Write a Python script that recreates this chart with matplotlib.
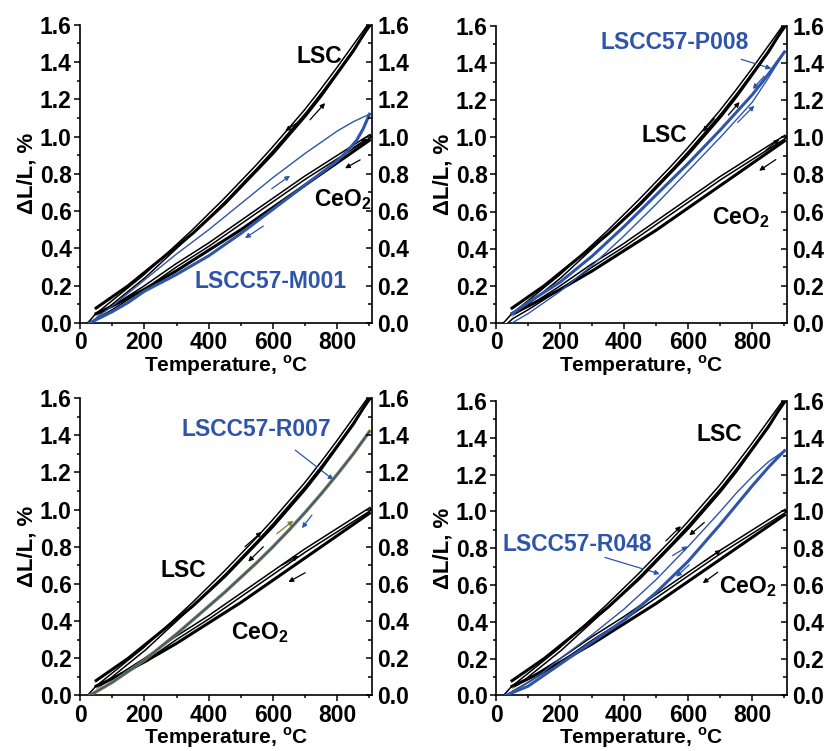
import matplotlib
matplotlib.use("Agg")
import matplotlib.pyplot as plt
from matplotlib.ticker import MultipleLocator

plt.rcParams['font.family'] = ['Liberation Sans', 'DejaVu Sans']
plt.rcParams['font.weight'] = 'bold'

# reference materials (same in every panel)
temp_lsc_heat = [30, 50, 100, 150, 200, 250, 300, 350, 400, 450, 500, 550, 600,
                 650, 700, 750, 800, 850, 900]
lsc_heat = [0.0, 0.04, 0.11, 0.18, 0.25, 0.33, 0.41, 0.49, 0.575, 0.66, 0.75, 0.84,
            0.935, 1.035, 1.135, 1.245, 1.36, 1.48, 1.60]
temp_lsc_cool = [50, 100, 150, 200, 250, 300, 350, 400, 450, 500, 550, 600, 650,
                 700, 750, 800, 850, 900]
lsc_cool = [0.08, 0.14, 0.20, 0.27, 0.34, 0.41, 0.48, 0.56, 0.64, 0.73, 0.82, 0.91,
            1.01, 1.11, 1.22, 1.34, 1.46, 1.60]

temp_ceo_heat = [30, 50, 100, 200, 300, 400, 500, 600, 700, 800, 900]
ceo_heat = [0.0, 0.03, 0.08, 0.19, 0.31, 0.42, 0.54, 0.66, 0.78, 0.89, 1.00]
temp_ceo_cool = [50, 100, 200, 300, 400, 500, 600, 700, 800, 900]
ceo_cool = [0.05, 0.09, 0.18, 0.28, 0.39, 0.50, 0.62, 0.74, 0.86, 0.98]

# LSCC57 samples
temp_m001_heat = [30, 100, 200, 300, 400, 500, 600, 700, 750, 800, 850, 900]
m001_heat = [0.0, 0.09, 0.23, 0.37, 0.50, 0.64, 0.78, 0.91, 0.97, 1.03, 1.08, 1.12]
temp_m001_cool = [30, 100, 150, 200, 300, 400, 500, 600, 700, 750, 800, 830, 860,
                  880, 900]
m001_cool = [0.0, 0.06, 0.11, 0.17, 0.26, 0.36, 0.48, 0.61, 0.74, 0.805, 0.87, 0.92,
             0.98, 1.04, 1.12]

temp_p008 = [50, 100, 150, 200, 250, 300, 350, 400, 450, 500, 550, 600, 650, 700,
             750, 800, 850, 900]
p008_heat = [0.0, 0.05, 0.11, 0.17, 0.24, 0.31, 0.39, 0.47, 0.555, 0.64, 0.73, 0.82,
             0.91, 1.00, 1.095, 1.19, 1.32, 1.46]
p008_cool = [0.05, 0.11, 0.165, 0.22, 0.29, 0.36, 0.44, 0.52, 0.605, 0.69, 0.775,
             0.86, 0.95, 1.04, 1.135, 1.23, 1.34, 1.46]

temp_r007 = [30, 100, 150, 200, 250, 300, 350, 400, 450, 500, 550, 600, 650, 700,
             750, 800, 850, 900]
r007_heat = [0.0, 0.07, 0.13, 0.19, 0.26, 0.33, 0.405, 0.48, 0.555, 0.635, 0.715,
             0.80, 0.89, 0.985, 1.085, 1.19, 1.30, 1.42]
r007_cool = [0.0, 0.07, 0.13, 0.19, 0.26, 0.33, 0.405, 0.48, 0.555, 0.635, 0.715,
             0.80, 0.89, 0.985, 1.085, 1.19, 1.30, 1.42]

temp_r048 = [30, 100, 150, 200, 250, 300, 350, 400, 450, 500, 550, 600, 650, 700,
             750, 800, 850, 900]
r048_heat = [0.0, 0.07, 0.13, 0.20, 0.265, 0.33, 0.40, 0.47, 0.55, 0.63, 0.72, 0.81,
             0.905, 1.00, 1.10, 1.19, 1.27, 1.33]
r048_cool = [0.0, 0.05, 0.11, 0.17, 0.23, 0.29, 0.35, 0.41, 0.485, 0.56, 0.645, 0.73,
             0.83, 0.93, 1.035, 1.14, 1.24, 1.33]

BLUE = '#2f55a8'
OLIVE = '#7d7d30'


def hollow(ax, x, y):
    ax.plot(x, y, color='black', lw=3.2, solid_joinstyle='round', zorder=3)
    ax.plot(x, y, color='white', lw=1.0, solid_joinstyle='round', zorder=3.1)


def solid(ax, x, y, color='black', lw=2.2, z=3.2):
    ax.plot(x, y, color=color, lw=lw, solid_joinstyle='round', zorder=z)


def small_arrow(ax, tail, head, color):
    ax.annotate('', xy=head, xytext=tail,
                arrowprops=dict(arrowstyle='-|>', color=color, lw=0.9,
                                mutation_scale=7, shrinkA=0, shrinkB=0),
                zorder=5)


def pointer(ax, tail, head):
    ax.annotate('', xy=head, xytext=tail,
                arrowprops=dict(arrowstyle='-|>', color=BLUE, lw=0.9,
                                mutation_scale=7, shrinkA=0, shrinkB=0))


def setup(ax):
    ax.set_xlim(0, 908)
    ax.set_ylim(0, 1.6)
    ax.spines['top'].set_visible(False)
    ax.spines['right'].set_visible(False)
    for s in ['left', 'bottom']:
        ax.spines[s].set_linewidth(1.2)
    ax.xaxis.set_major_locator(MultipleLocator(200))
    ax.xaxis.set_minor_locator(MultipleLocator(100))
    ax.yaxis.set_major_locator(MultipleLocator(0.2))
    ax.yaxis.set_minor_locator(MultipleLocator(0.1))
    ax.tick_params(which='both', direction='out', labelsize=16.5, width=1.1)
    ax.tick_params(which='major', length=4, pad=2)
    ax.tick_params(which='minor', length=2.5)
    ax.set_yticklabels([f'{v:.1f}' for v in ax.get_yticks()], fontweight='bold')
    ax.set_xticklabels([f'{int(v)}' for v in ax.get_xticks()], fontweight='bold')
    ax.set_xlabel('Temperature, $^\\mathregular{o}$C', fontsize=15,
                  fontweight='bold', labelpad=-1)
    ax.set_ylabel('\u0394L/L, %', fontsize=16, fontweight='bold', labelpad=2)

    ax2 = ax.twinx()
    ax2.set_ylim(0, 1.6)
    ax2.spines['top'].set_visible(False)
    ax2.spines['left'].set_visible(False)
    ax2.spines['bottom'].set_visible(False)
    ax2.spines['right'].set_linewidth(1.2)
    ax2.yaxis.set_major_locator(MultipleLocator(0.2))
    ax2.yaxis.set_minor_locator(MultipleLocator(0.1))
    ax2.tick_params(which='both', direction='in', labelsize=16.5, width=1.1, pad=4)
    ax2.tick_params(which='major', length=4)
    ax2.tick_params(which='minor', length=3)
    ax2.set_yticklabels([f'{v:.1f}' for v in ax2.get_yticks()], fontweight='bold')


def references(ax, arrows):
    hollow(ax, temp_ceo_heat, ceo_heat)
    solid(ax, temp_ceo_cool, ceo_cool)
    hollow(ax, temp_lsc_heat, lsc_heat)
    solid(ax, temp_lsc_cool, lsc_cool)
    for tail, head, c in arrows:
        small_arrow(ax, tail, head, c)


def label(ax, x, y, s, color='black'):
    ax.text(x, y, s, color=color, fontsize=16.5, fontweight='bold',
            ha='center', va='center', zorder=6)


fig = plt.figure(figsize=(8.26, 7.51), dpi=100)
ax1 = fig.add_axes([0.0969, 0.570, 0.3535, 0.397])
ax2 = fig.add_axes([0.6005, 0.570, 0.3523, 0.3955])
ax3 = fig.add_axes([0.0969, 0.0740, 0.3535, 0.396])
ax4 = fig.add_axes([0.6005, 0.0740, 0.3523, 0.392])

# panel 1: M001
references(ax1, [((680, 1.08), (638, 1.03), 'black'),
                 ((715, 1.09), (762, 1.18), 'black'),
                 ((849, 0.94), (893, 0.99), 'black'),
                 ((871, 0.875), (824, 0.83), 'black'),
                 ((596, 0.72), (653, 0.79), BLUE),
                 ((570, 0.52), (513, 0.455), BLUE)])
ax1.plot(temp_m001_heat, m001_heat, color=BLUE, lw=1.0, zorder=4)
ax1.plot(temp_m001_cool, m001_cool, color=BLUE, lw=2.2, solid_joinstyle='round', zorder=4)
label(ax1, 743, 1.43, 'LSC')
label(ax1, 818, 0.66, 'CeO$_\\mathregular{2}$')
label(ax1, 591, 0.22, 'LSCC57-M001', BLUE)

# panel 2: P008
references(ax2, [((681, 1.10), (645, 1.03), 'black'),
                 ((725, 1.12), (760, 1.19), 'black'),
                 ((842, 0.93), (884, 0.99), 'black'),
                 ((873, 0.88), (821, 0.82), 'black'),
                 ((837, 1.33), (801, 1.26), BLUE),
                 ((754, 1.08), (806, 1.17), BLUE)])
ax2.plot(temp_p008, p008_heat, color=BLUE, lw=1.0, zorder=4)
ax2.plot(temp_p008, p008_cool, color=BLUE, lw=2.2, solid_joinstyle='round', zorder=4)
label(ax2, 557, 1.51, 'LSCC57-P008', BLUE)
label(ax2, 525, 1.01, 'LSC')
label(ax2, 763, 0.57, 'CeO$_\\mathregular{2}$')
pointer(ax2, (765, 1.42), (859, 1.37))

# panel 3: R007
references(ax3, [((513, 0.80), (565, 0.88), 'black'),
                 ((570, 0.80), (523, 0.72), 'black'),
                 ((627, 0.70), (679, 0.75), 'black'),
                 ((700, 0.66), (648, 0.61), 'black'),
                 ((612, 0.87), (663, 0.94), OLIVE),
                 ((721, 0.97), (690, 0.90), BLUE)])
ax3.plot(temp_r007, r007_heat, color=OLIVE, lw=2.4, solid_joinstyle='round', zorder=4)
ax3.plot(temp_r007, r007_cool, color=BLUE, lw=1.0, zorder=4.1)
label(ax3, 549, 1.43, 'LSCC57-R007', BLUE)
label(ax3, 321, 0.67, 'LSC')
label(ax3, 560, 0.34, 'CeO$_\\mathregular{2}$')
pointer(ax3, (669, 1.32), (788, 1.16))

# panel 4: R048
references(ax4, [((530, 0.84), (577, 0.92), 'black'),
                 ((650, 0.94), (603, 0.87), 'black'),
                 ((650, 0.73), (702, 0.79), 'black'),
                 ((692, 0.67), (645, 0.61), 'black'),
                 ((551, 0.76), (598, 0.81), BLUE),
                 ((603, 0.71), (562, 0.645), BLUE)])
ax4.plot(temp_r048, r048_heat, color=BLUE, lw=1.0, zorder=4)
ax4.plot(temp_r048, r048_cool, color=BLUE, lw=2.2, solid_joinstyle='round', zorder=4)
label(ax4, 697, 1.42, 'LSC')
label(ax4, 255, 0.82, 'LSCC57-R048', BLUE)
label(ax4, 785, 0.59, 'CeO$_\\mathregular{2}$')
pointer(ax4, (340, 0.75), (511, 0.66))

for ax in (ax1, ax2, ax3, ax4):
    setup(ax)

fig.savefig('out.png', dpi=100)
